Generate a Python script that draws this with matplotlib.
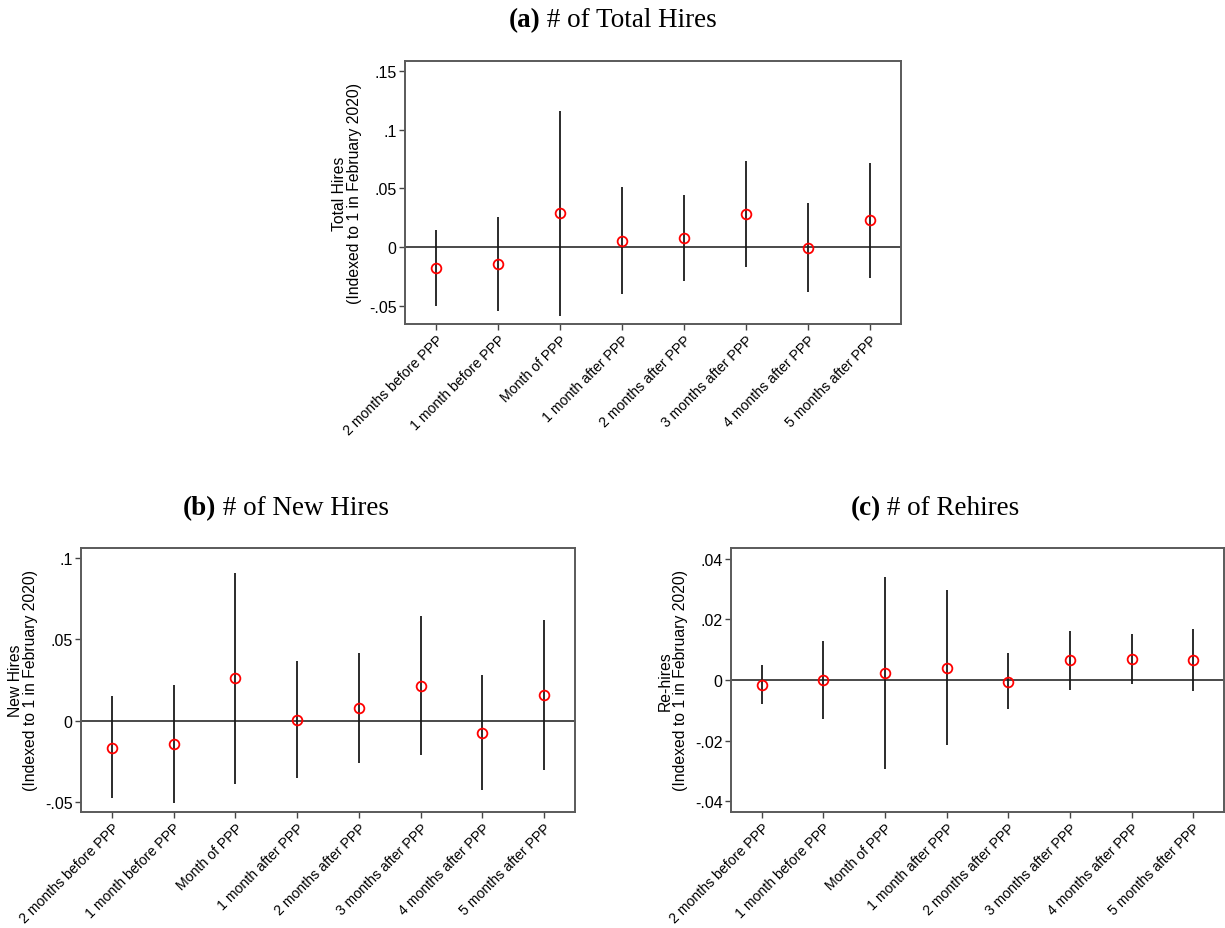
import matplotlib
matplotlib.use("Agg")
import matplotlib.pyplot as plt
from matplotlib.ticker import FuncFormatter

# Event-time categories relative to the PPP loan month
periods = ["2 months before PPP", "1 month before PPP", "Month of PPP",
           "1 month after PPP", "2 months after PPP", "3 months after PPP",
           "4 months after PPP", "5 months after PPP"]

# (a) Total hires: point estimates and 95% CI bounds
total_coef = [-0.0175, -0.0138, 0.0288, 0.0054, 0.0079, 0.0285, -0.0003, 0.0229]
total_lo = [-0.0497, -0.0540, -0.0582, -0.0401, -0.0283, -0.0170, -0.0384, -0.0260]
total_hi = [0.0147, 0.0260, 0.1158, 0.0508, 0.0443, 0.0734, 0.0379, 0.0715]

# (b) New hires
new_coef = [-0.0165, -0.0144, 0.0260, 0.0008, 0.0079, 0.0214, -0.0073, 0.0157]
new_lo = [-0.0476, -0.0503, -0.0387, -0.0350, -0.0260, -0.0212, -0.0427, -0.0303]
new_hi = [0.0151, 0.0218, 0.0908, 0.0364, 0.0419, 0.0643, 0.0281, 0.0621]

# (c) Re-hires
re_coef = [-0.0016, 0.0000, 0.0024, 0.0041, -0.0005, 0.0065, 0.0069, 0.0067]
re_lo = [-0.0080, -0.0129, -0.0292, -0.0214, -0.0096, -0.0033, -0.0013, -0.0035]
re_hi = [0.0049, 0.0129, 0.0340, 0.0296, 0.0088, 0.0163, 0.0151, 0.0168]

W, H = 1225, 929
fig = plt.figure(figsize=(W / 100, H / 100), dpi=100)
fig.patch.set_facecolor("white")

SANS = ["Liberation Sans", "DejaVu Sans"]
SERIF = ["Liberation Serif", "DejaVu Serif"]


def px_axes(x0, y0, x1, y1):
    return fig.add_axes([x0 / W, 1 - y1 / H, (x1 - x0) / W, (y1 - y0) / H])


def strip_zero(v, _pos=None):
    if abs(v) < 1e-12:
        return "0"
    s = f"{v:g}"
    return s.replace("0.", ".", 1)


def panel(ax, coef, lo, hi, ylim, yticks, ylabel):
    x = list(range(1, len(periods) + 1))
    ax.axhline(0, color="#3a3a3a", lw=1.3, zorder=1)
    ax.vlines(x, lo, hi, color="#1a1a1a", lw=1.3, zorder=2)
    ax.plot(x, coef, linestyle="none", marker="o", ms=7, mfc="none",
            mec="#ff0000", mew=1.3, zorder=3)
    ax.set_xlim(0.5, 8.5)
    ax.set_ylim(*ylim)
    ax.set_yticks(yticks)
    ax.yaxis.set_major_formatter(FuncFormatter(strip_zero))
    ax.set_xticks(x)
    ax.set_xticklabels(periods, rotation=45, ha="right",
                       rotation_mode="anchor", family=SANS, fontsize=10.2)
    for lab in ax.get_yticklabels():
        lab.set_family(SANS)
        lab.set_fontsize(11.5)
    ax.tick_params(axis="both", direction="out", length=4, width=1.0,
                   color="#444444", pad=2)
    ax.tick_params(axis="x", pad=2)
    for sp in ax.spines.values():
        sp.set_color("#5a5a5a")
        sp.set_linewidth(1.4)
    ax.set_ylabel(ylabel, family=SANS, fontsize=11.3, linespacing=1.0,
                  labelpad=5)


ax_a = px_axes(405, 62, 901, 325)
panel(ax_a, total_coef, total_lo, total_hi, (-0.0652, 0.1583),
      [-0.05, 0, 0.05, 0.1, 0.15],
      "Total Hires\n(Indexed to 1 in February 2020)")

ax_b = px_axes(81, 549, 575, 813)
panel(ax_b, new_coef, new_lo, new_hi, (-0.0559, 0.106),
      [-0.05, 0, 0.05, 0.1],
      "New Hires\n(Indexed to 1 in February 2020)")

ax_c = px_axes(731, 549, 1224, 813)
panel(ax_c, re_coef, re_lo, re_hi, (-0.0435, 0.0435),
      [-0.04, -0.02, 0, 0.02, 0.04],
      "Re-hires\n(Indexed to 1 in February 2020)")


def subtitle(cx, base_y, tag, text):
    # Bold tag followed by regular text, centred as a single line
    renderer = fig.canvas.get_renderer()
    t1 = fig.text(0, 1 - base_y / H, tag, family=SERIF, fontsize=19.5,
                  fontweight="bold", va="baseline", ha="left")
    t2 = fig.text(0, 1 - base_y / H, " " + text, family=SERIF, fontsize=19.5,
                  va="baseline", ha="left")
    w1 = t1.get_window_extent(renderer).width
    w2 = t2.get_window_extent(renderer).width
    left = cx - (w1 + w2) / 2
    t1.set_x(left / W)
    t2.set_x((left + w1) / W)


fig.canvas.draw()
subtitle(613, 27, "(a)", "# of Total Hires")
subtitle(286, 515, "(b)", "# of New Hires")
subtitle(935, 515, "(c)", "# of Rehires")

fig.savefig("out.png", dpi=100, facecolor="white")
